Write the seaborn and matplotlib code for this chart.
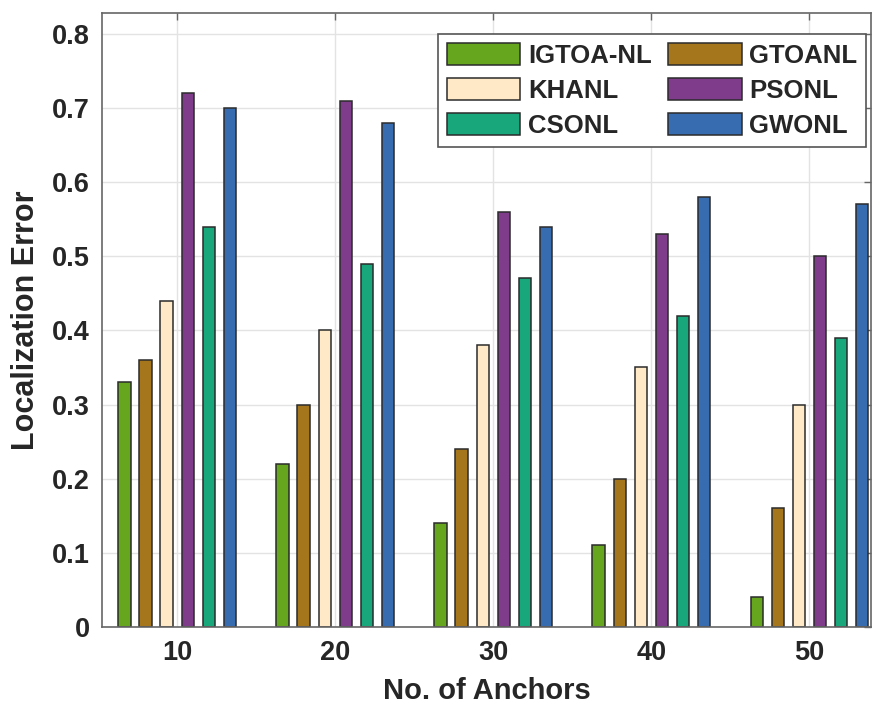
import pandas as pd
import numpy as np
import matplotlib
matplotlib.use('Agg')
import matplotlib.pyplot as plt
import seaborn as sns

# --- data ---
anchors = ['10', '20', '30', '40', '50']
methods = ['IGTOA-NL', 'GTOANL', 'KHANL', 'PSONL', 'CSONL', 'GWONL']
igtoa_nl = [0.33, 0.22, 0.14, 0.11, 0.04]
gtoanl = [0.36, 0.30, 0.24, 0.20, 0.16]
khanl = [0.44, 0.40, 0.38, 0.35, 0.30]
psonl = [0.72, 0.71, 0.56, 0.53, 0.50]
csonl = [0.54, 0.49, 0.47, 0.42, 0.39]
gwonl = [0.70, 0.68, 0.54, 0.58, 0.57]
yticks = [0, 0.1, 0.2, 0.3, 0.4, 0.5, 0.6, 0.7, 0.8]
ytick_labels = ['0', '0.1', '0.2', '0.3', '0.4', '0.5', '0.6', '0.7', '0.8']

colors = ['#66A61E', '#A6761D', '#FFE9C6', '#7E3C8B', '#17A77B', '#386CB0']

series = [igtoa_nl, gtoanl, khanl, psonl, csonl, gwonl]
rows = []
for m, vals in zip(methods, series):
    for a, v in zip(anchors, vals):
        rows.append({'Anchors': a, 'Method': m, 'Error': v})
df = pd.DataFrame(rows)

# --- plot ---
sns.set_style('whitegrid')
plt.rcParams['font.family'] = ['Liberation Sans', 'DejaVu Sans']
plt.rcParams['font.weight'] = 'bold'

fig = plt.figure(figsize=(8.73, 7.06), dpi=100)
ax = fig.add_axes([102 / 873, 1 - 627 / 706, (871 - 102) / 873, (627 - 13) / 706])

sns.barplot(data=df, x='Anchors', y='Error', hue='Method', order=anchors,
            hue_order=methods, palette=colors, width=0.8, gap=0.42,
            edgecolor='#2b2b2b', linewidth=1.1, saturation=1, ax=ax,
            errorbar=None)

ax.set_xlim(-0.475, 4.39)
ax.set_ylim(0, 0.828)
ax.set_yticks(yticks)
ax.set_yticklabels(ytick_labels)

ax.grid(True, color='#e3e3e3', linewidth=1.0)
ax.set_axisbelow(True)
for s in ax.spines.values():
    s.set_visible(True)
    s.set_color('#666666')
    s.set_linewidth(1.2)

ax.tick_params(direction='in', length=5, width=1, color='#666666',
               top=True, right=True, labelsize=19.5, labelcolor='#262626', pad=9)
for lab in ax.get_xticklabels() + ax.get_yticklabels():
    lab.set_fontweight('bold')

ax.set_xlabel('No. of Anchors', fontsize=21, fontweight='bold', color='#262626', labelpad=8)
ax.set_ylabel('Localization Error', fontsize=22, fontweight='bold', color='#262626', labelpad=8)

# legend filled row-wise like the original
handles, labels = ax.get_legend_handles_labels()
idx = [0, 2, 4, 1, 3, 5]
leg = ax.legend([handles[i] for i in idx], [labels[i] for i in idx], ncol=2,
                loc='upper right', bbox_to_anchor=(0.994, 0.966), borderaxespad=0,
                fancybox=False, framealpha=1, edgecolor='#555555',
                prop={'size': 18.5, 'weight': 'bold'},
                handlelength=2.85, handleheight=0.95, handletextpad=0.3,
                labelspacing=0.4, columnspacing=0.65, borderpad=0.35)
leg.get_frame().set_linewidth(1.2)

plt.savefig('out.png', dpi=100)
